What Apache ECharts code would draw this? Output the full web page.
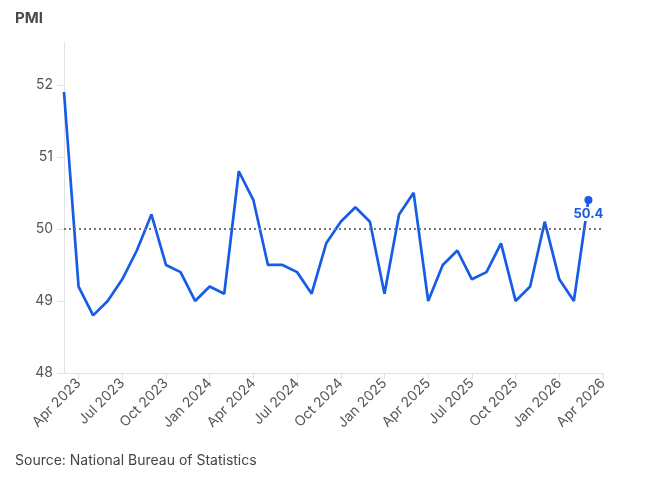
<!DOCTYPE html>
<html>
<head>
<meta charset="utf-8">
<script src="https://cdn.jsdelivr.net/npm/echarts@6/dist/echarts.min.js"></script>
<style>
html,body{margin:0;padding:0;background:#fff;}
#c{width:650px;height:491px;}
</style>
</head>
<body>
<div id="c"></div>
<script>
const months = ['Mar 2023','Apr 2023','May 2023','Jun 2023','Jul 2023','Aug 2023','Sep 2023','Oct 2023','Nov 2023','Dec 2023',
'Jan 2024','Feb 2024','Mar 2024','Apr 2024','May 2024','Jun 2024','Jul 2024','Aug 2024','Sep 2024','Oct 2024','Nov 2024','Dec 2024',
'Jan 2025','Feb 2025','Mar 2025','Apr 2025','May 2025','Jun 2025','Jul 2025','Aug 2025','Sep 2025','Oct 2025','Nov 2025','Dec 2025',
'Jan 2026','Feb 2026','Mar 2026','Apr 2026'];
const pmi = [51.9,49.2,48.8,49.0,49.3,49.7,50.2,49.5,49.4,49.0,
49.2,49.1,50.8,50.4,49.5,49.5,49.4,49.1,49.8,50.1,50.3,50.1,
49.1,50.2,50.5,49.0,49.5,49.7,49.3,49.4,49.8,49.0,49.2,50.1,
49.3,49.0,50.4,null];
const yTicks = [48,49,50,51,52];
const refLevel = 50;
const titleText = 'PMI';
const sourceText = 'Source: National Bureau of Statistics';

const lastIdx = 36;
const seriesData = pmi.map((v,i)=> i===lastIdx ? {
  value: v,
  symbol: 'circle', symbolSize: 8,
  label: {show:true, position:'bottom', distance:3, formatter:'{c}', color:'#175ce6',
    fontWeight:'bold', fontSize:13, fontFamily:'Inter', backgroundColor:'#fff', padding:[1,1,0,1]}
} : v);

const quarterly = (idx) => (idx - 1) % 3 === 0;
const chart = echarts.init(document.getElementById('c'), null, {renderer:'canvas'});
chart.setOption({
  animation:false,
  textStyle:{fontFamily:'Inter'},
  title:[
    {text:titleText, left:15, top:11, padding:0, textStyle:{fontSize:15, fontWeight:'bold', color:'#4a4a4a', fontFamily:'Inter'}},
    {text:sourceText, left:15, top:454, padding:0, textStyle:{fontSize:14, fontWeight:'normal', color:'#444', fontFamily:'Inter'}}
  ],
  grid:{left:64, right:47, top:43, bottom:118, containLabel:false},
  xAxis:{
    type:'category', data:months, boundaryGap:false,
    axisLine:{show:true, lineStyle:{color:'#e2e2e2', width:1}},
    axisTick:{show:true, interval:quarterly, length:6, lineStyle:{color:'#e2e2e2'}},
    axisLabel:{interval:quarterly, rotate:45, margin:8, fontSize:14, color:'#555', fontFamily:'Inter'},
    splitLine:{show:false}
  },
  yAxis:{
    type:'value', min:48, max:52.58,
    axisLine:{show:true, lineStyle:{color:'#e2e2e2', width:1}},
    axisTick:{show:true, length:7, lineStyle:{color:'#e2e2e2'}, customValues:yTicks},
    axisLabel:{margin:11, fontSize:14, color:'#555', fontFamily:'Inter', customValues:yTicks},
    splitLine:{show:false}
  },
  series:[{
    type:'line', data:seriesData, showSymbol:true, symbol:'none',
    lineStyle:{color:'#175ce6', width:2.7}, itemStyle:{color:'#175ce6'},
    connectNulls:false,
    markLine:{silent:true, symbol:'none', label:{show:false},
      lineStyle:{type:[2,3], color:'#777', width:2},
      data:[{yAxis:refLevel}]},
    z:3
  }]
});
</script>
</body>
</html>
